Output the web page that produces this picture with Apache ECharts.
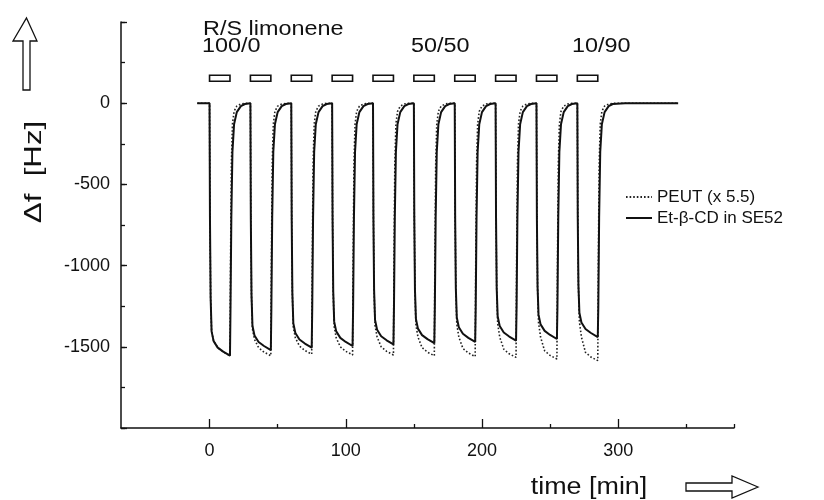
<!DOCTYPE html>
<html>
<head>
<meta charset="utf-8">
<script src="https://cdn.jsdelivr.net/npm/echarts@6/dist/echarts.min.js"></script>
<style>
  html, body { margin: 0; padding: 0; background: #fff; }
  #main { width: 824px; height: 500px; }
</style>
</head>
<body>
<div id="main"></div>
<script>
// time axis (min) shared by both traces
const timeMin = [
  -9,
  0, 0.3, 0.8, 1.5, 3, 6, 10, 15, 15.4, 16, 16.8, 18, 20, 23, 26,
  30, 30.3, 30.8, 31.5, 33, 36, 40, 45, 45.4, 46, 46.8, 48, 50, 53, 56,
  60, 60.3, 60.8, 61.5, 63, 66, 70, 75, 75.4, 76, 76.8, 78, 80, 83, 86,
  90, 90.3, 90.8, 91.5, 93, 96, 100, 105, 105.4, 106, 106.8, 108, 110, 113, 116,
  120, 120.3, 120.8, 121.5, 123, 126, 130, 135, 135.4, 136, 136.8, 138, 140, 143, 146,
  150, 150.3, 150.8, 151.5, 153, 156, 160, 165, 165.4, 166, 166.8, 168, 170, 173, 176,
  180, 180.3, 180.8, 181.5, 183, 186, 190, 195, 195.4, 196, 196.8, 198, 200, 203, 206,
  210, 210.3, 210.8, 211.5, 213, 216, 220, 225, 225.4, 226, 226.8, 228, 230, 233, 236,
  240, 240.3, 240.8, 241.5, 243, 246, 250, 255, 255.4, 256, 256.8, 258, 260, 263, 266,
  270, 270.3, 270.8, 271.5, 273, 276, 280, 285, 285.4, 286, 286.8, 288, 290, 293, 296,
  305, 344
];

// Et-beta-CD in SE52 (solid)
const etCdHz = [
  0,
  0, -700, -1200, -1405, -1465, -1505, -1530, -1555, -1250, -700, -300, -130, -55, -18, -5,
  0, -700, -1180, -1370, -1430, -1470, -1495, -1520, -1250, -700, -300, -130, -55, -18, -5,
  0, -700, -1170, -1355, -1415, -1455, -1480, -1505, -1250, -700, -300, -130, -55, -18, -5,
  0, -700, -1160, -1345, -1405, -1445, -1470, -1495, -1250, -700, -300, -130, -55, -18, -5,
  0, -700, -1150, -1335, -1395, -1435, -1460, -1485, -1250, -700, -300, -130, -55, -18, -5,
  0, -700, -1150, -1328, -1388, -1428, -1453, -1478, -1250, -700, -300, -130, -55, -18, -5,
  0, -700, -1140, -1320, -1380, -1420, -1445, -1470, -1250, -700, -300, -130, -55, -18, -5,
  0, -700, -1140, -1312, -1372, -1412, -1437, -1462, -1250, -700, -300, -130, -55, -18, -5,
  0, -700, -1130, -1302, -1362, -1402, -1427, -1452, -1250, -700, -300, -130, -55, -18, -5,
  0, -700, -1120, -1290, -1350, -1390, -1415, -1440, -1250, -700, -300, -130, -55, -18, -5,
  -1, 0
];

// PEUT (x 5.5) (dotted)
const peutHz = [
  0,
  0, -700, -1200, -1405, -1465, -1505, -1530, -1555, -1000, -380, -130, -50, -18, -5, -1,
  0, -700, -1190, -1390, -1455, -1505, -1533, -1555, -1000, -380, -130, -50, -18, -5, -1,
  0, -700, -1180, -1380, -1445, -1495, -1523, -1545, -1000, -380, -130, -50, -18, -5, -1,
  0, -700, -1170, -1375, -1445, -1500, -1528, -1550, -1000, -380, -130, -50, -18, -5, -1,
  0, -700, -1160, -1370, -1440, -1500, -1528, -1550, -1000, -380, -130, -50, -18, -5, -1,
  0, -700, -1160, -1365, -1440, -1505, -1533, -1555, -1000, -380, -130, -50, -18, -5, -1,
  0, -700, -1150, -1360, -1440, -1510, -1538, -1560, -1000, -380, -130, -50, -18, -5, -1,
  0, -700, -1150, -1355, -1440, -1515, -1543, -1565, -1000, -380, -130, -50, -18, -5, -1,
  0, -700, -1140, -1350, -1440, -1525, -1553, -1575, -1000, -380, -130, -50, -18, -5, -1,
  0, -700, -1130, -1345, -1440, -1535, -1563, -1585, -1000, -380, -130, -50, -18, -5, -1,
  0, 0
];

// exposure periods (boxes at the top)
const exposureOn = [0, 30, 60, 90, 120, 150, 180, 210, 240, 270];
const exposureOff = [15, 45, 75, 105, 135, 165, 195, 225, 255, 285];
const boxLowHz = 135;
const boxHighHz = 172;

const xLabelTicks = [0, 100, 200, 300];
const xMinorTicks = [50, 150, 250, 350, 385];

const FONT = "'Liberation Sans', Arial, sans-serif";
const INK = '#111';

function pairs(xs, ys) {
  const out = [];
  for (let i = 0; i < xs.length; i++) out.push([xs[i], ys[i]]);
  return out;
}

const boxData = exposureOn.map((t, i) => [t, exposureOff[i]]);

const chart = echarts.init(document.getElementById('main'));

const option = {
  animation: false,
  backgroundColor: '#fff',
  grid: { left: 121, right: 90, top: 22, bottom: 72, containLabel: false, outerBoundsMode: 'none' },
  legend: {
    data: ['PEUT (x 5.5)', 'Et-β-CD in SE52'],
    orient: 'vertical',
    left: 620,
    top: 182,
    itemWidth: 26,
    itemHeight: 14,
    itemGap: 1,
    itemStyle: { opacity: 0 },
    textStyle: { fontFamily: FONT, fontSize: 17, color: INK, lineHeight: 20 }
  },
  xAxis: [
    {
      type: 'value',
      min: -65,
      max: 385,
      axisLine: { show: true, onZero: false, lineStyle: { color: INK, width: 1.5 } },
      axisTick: { show: true, inside: true, length: 9, customValues: xLabelTicks, lineStyle: { color: INK, width: 1.3 } },
      axisLabel: { customValues: xLabelTicks, margin: 14, fontFamily: FONT, fontSize: 18, color: INK },
      splitLine: { show: false }
    },
    {
      type: 'value',
      position: 'bottom',
      min: -65,
      max: 385,
      axisLine: { show: false, onZero: false },
      axisTick: { show: true, inside: true, length: 4, customValues: xMinorTicks, lineStyle: { color: INK, width: 1.3 } },
      axisLabel: { show: false },
      splitLine: { show: false }
    }
  ],
  yAxis: [
    {
      type: 'value',
      position: 'left',
      min: -2000,
      max: 500,
      interval: 500,
      axisLine: { show: true, onZero: false, lineStyle: { color: INK, width: 1.5 } },
      axisTick: { show: true, inside: true, length: 6, lineStyle: { color: INK, width: 1.3 } },
      axisLabel: {
        margin: 11,
        fontFamily: FONT,
        fontSize: 18,
        color: INK,
        formatter: (v) => (v === 500 || v === -2000 ? '' : String(v))
      },
      splitLine: { show: false }
    },
    {
      type: 'value',
      position: 'left',
      min: -2000,
      max: 500,
      interval: 250,
      axisLine: { show: false, onZero: false },
      axisTick: { show: true, inside: true, length: 4, lineStyle: { color: INK, width: 1.3 } },
      axisLabel: { show: false },
      splitLine: { show: false }
    }
  ],
  series: [
    {
      name: 'PEUT (x 5.5)',
      type: 'line',
      symbol: 'none',
      data: pairs(timeMin, peutHz),
      lineStyle: { color: '#222', width: 1.6, type: [1.6, 2] },
      itemStyle: { color: '#222' },
      z: 2
    },
    {
      name: 'Et-β-CD in SE52',
      type: 'line',
      symbol: 'none',
      data: pairs(timeMin, etCdHz),
      lineStyle: { color: INK, width: 2 },
      itemStyle: { color: INK },
      z: 3
    },
    {
      name: 'exposure',
      type: 'custom',
      data: boxData,
      renderItem: (params, api) => {
        const a = api.coord([api.value(0), boxHighHz]);
        const b = api.coord([api.value(1), boxLowHz]);
        return {
          type: 'rect',
          shape: { x: a[0], y: a[1], width: b[0] - a[0], height: b[1] - a[1] },
          style: { fill: '#fff', stroke: INK, lineWidth: 1.6 }
        };
      },
      z: 4
    }
  ],
  graphic: [
    { type: 'text', x: 203, y: 19, scaleX: 1.17, style: { text: 'R/S limonene', font: '20px ' + FONT, fill: INK } },
    { type: 'text', x: 202, y: 36, scaleX: 1.17, style: { text: '100/0', font: '20px ' + FONT, fill: INK } },
    { type: 'text', x: 411, y: 36, scaleX: 1.17, style: { text: '50/50', font: '20px ' + FONT, fill: INK } },
    { type: 'text', x: 572, y: 36, scaleX: 1.17, style: { text: '10/90', font: '20px ' + FONT, fill: INK } },
    {
      type: 'text',
      x: 34,
      y: 172,
      rotation: Math.PI / 2,
      scaleX: 1.3,
      style: { text: 'Δf  [Hz]', font: '24px ' + FONT, fill: INK, align: 'center', verticalAlign: 'middle' }
    },
    {
      type: 'text',
      x: 589,
      y: 488,
      scaleX: 1.17,
      style: { text: 'time [min]', font: '23px ' + FONT, fill: INK, align: 'center', verticalAlign: 'middle' }
    },
    {
      type: 'polygon',
      shape: { points: [[26.5, 18], [37, 41], [30, 41], [30, 90], [23, 90], [23, 41], [13, 41]] },
      style: { fill: '#fff', stroke: INK, lineWidth: 1.3 }
    },
    {
      type: 'polygon',
      shape: { points: [[758, 487], [732, 476], [732, 483], [686, 483], [686, 491], [732, 491], [732, 498]] },
      style: { fill: '#fff', stroke: INK, lineWidth: 1.3 }
    }
  ]
};

chart.setOption(option);
</script>
</body>
</html>
